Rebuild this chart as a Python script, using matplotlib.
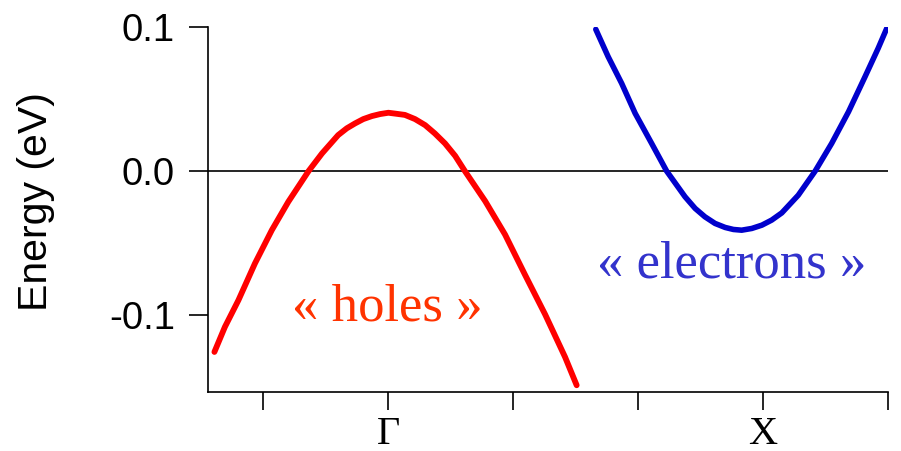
import numpy as np
import matplotlib.pyplot as plt

# Hole band around Gamma (k in units of Gamma-X, energy in eV)
k_holes = [-0.463, -0.435, -0.399, -0.355, -0.310, -0.266, -0.212, -0.176,
           -0.133, -0.110, -0.088, -0.066, -0.043, -0.021, 0.001, 0.019,
           0.045, 0.072, 0.099, 0.125, 0.152, 0.179, 0.205, 0.259, 0.312,
           0.365, 0.419, 0.472, 0.503]
e_holes = [-0.1255, -0.1081, -0.0896, -0.0641, -0.0410, -0.0213, 0.0, 0.0123,
           0.0250, 0.0297, 0.0331, 0.0361, 0.0382, 0.0396, 0.0405, 0.0399,
           0.0390, 0.0361, 0.0319, 0.0261, 0.0192, 0.0106, 0.0, -0.0208,
           -0.0440, -0.0718, -0.0995, -0.1290, -0.1486]

# Electron band around X
k_elec = [0.554, 0.587, 0.623, 0.659, 0.703, 0.743, 0.792, 0.819, 0.845,
          0.872, 0.899, 0.921, 0.943, 0.970, 0.997, 1.023, 1.050, 1.094,
          1.139, 1.183, 1.228, 1.272, 1.307, 1.330]
e_elec = [0.0984, 0.0794, 0.0609, 0.0401, 0.0192, 0.0, -0.0178, -0.0259,
          -0.0317, -0.0363, -0.0391, -0.0405, -0.0410, -0.0398, -0.0375,
          -0.0340, -0.0290, -0.0167, 0.0, 0.0192, 0.0412, 0.0655, 0.0852,
          0.0991]

xticks = [-1/3, 0, 1/3, 2/3, 1, 4/3]
xticklabels = ['', 'Γ', '', '', 'X', '']
yticks = [-0.1, 0.0, 0.1]
yticklabels = ['-0.1', '0.0', '0.1']

fig = plt.figure(figsize=(9.01, 4.51), dpi=100)
ax = fig.add_axes([0.2309, 0.1308, 0.7547, 0.8093])

ax.axhline(0, color='black', lw=1.2, zorder=1)
ax.plot(k_holes, e_holes, color='#ff0000', lw=4.2, zorder=2,
        solid_joinstyle='round', solid_capstyle='round')
ax.plot(k_elec, e_elec, color='#0000cc', lw=4.0, zorder=2,
        solid_joinstyle='round', solid_capstyle='round')

ax.set_xlim(-0.48, 4/3)
ax.set_ylim(-0.1533, 0.1)

for side in ['top', 'right']:
    ax.spines[side].set_visible(False)
for side in ['left', 'bottom']:
    ax.spines[side].set_linewidth(1.2)

ax.set_yticks(yticks)
ax.set_yticklabels(yticklabels, family='Liberation Sans', fontsize=27.5)
ax.set_xticks(xticks)
ax.set_xticklabels(xticklabels, family='Liberation Serif', fontsize=29)
ax.tick_params(axis='y', length=13.7, width=1.2, pad=10)
ax.tick_params(axis='x', length=13, width=1.2, pad=4)

ax.set_ylabel('Energy (eV)', family='Liberation Sans', fontsize=29.5)
ax.yaxis.set_label_coords(-0.225, 0.523)

ax.text(0.264, 0.197, '« holes »', transform=ax.transAxes, ha='center',
        va='baseline', family='Liberation Serif', fontsize=38, color='#ff3300')
ax.text(0.770, 0.315, '« electrons »', transform=ax.transAxes, ha='center',
        va='baseline', family='Liberation Serif', fontsize=38, color='#3333cc')

fig.savefig('out.png', dpi=100)
